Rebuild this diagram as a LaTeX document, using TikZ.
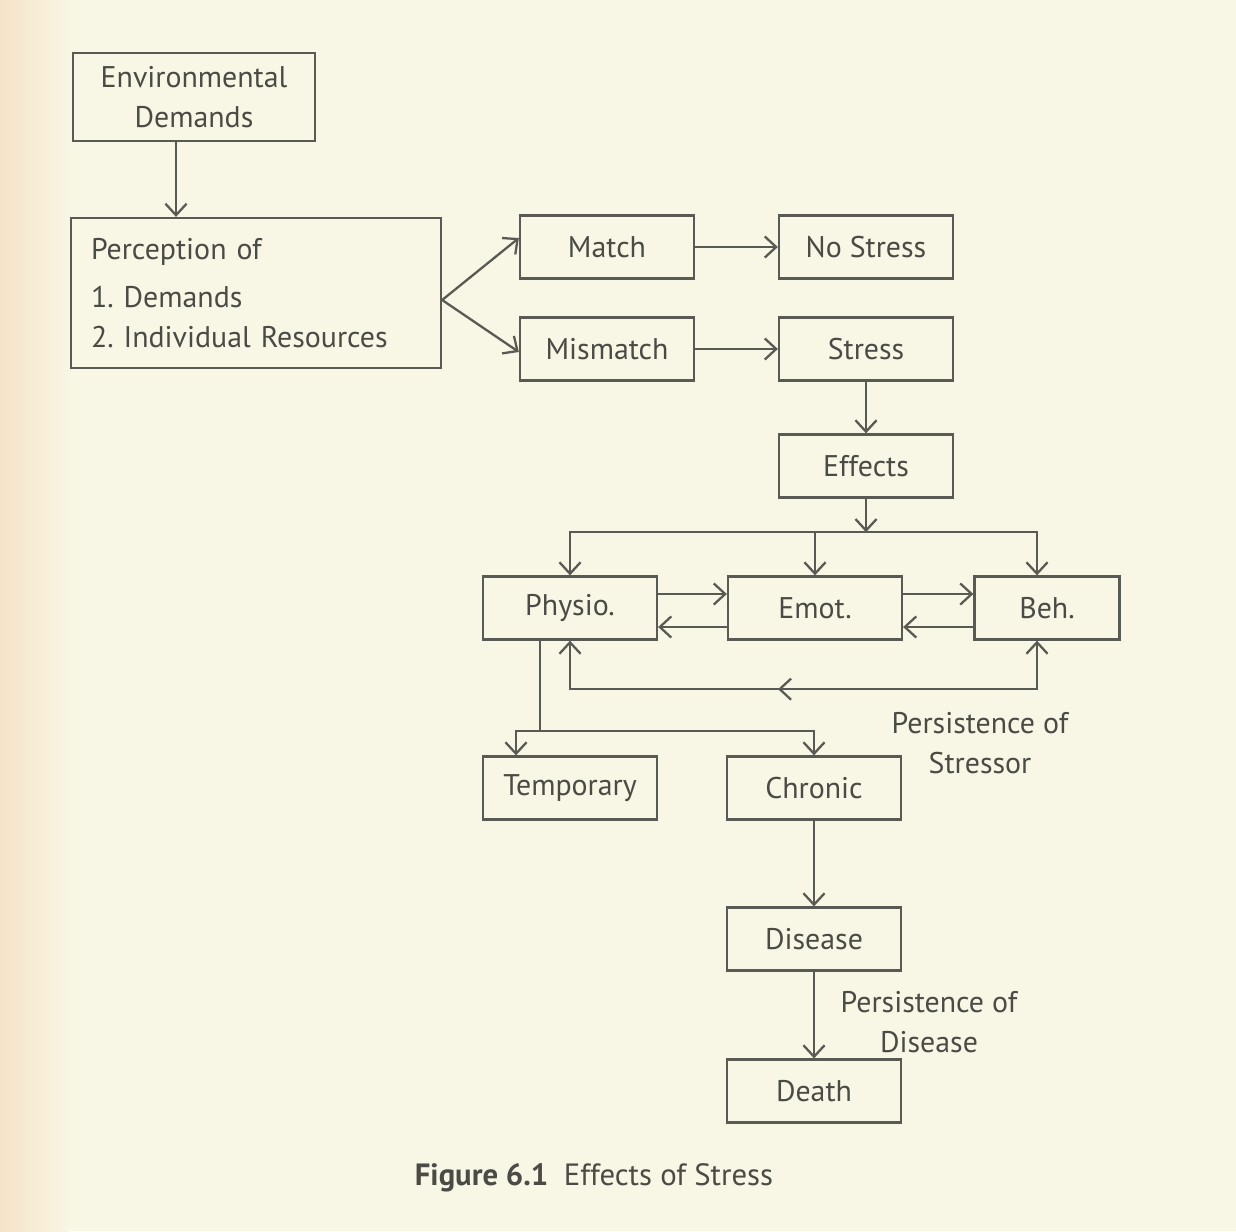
\documentclass[tikz,border=0pt]{standalone}
\usepackage{fontspec}
\setmainfont{PT Sans}
\usetikzlibrary{arrows.meta,calc,decorations.markings}
\definecolor{paper}{HTML}{F8F6E4}
\definecolor{peach}{HTML}{F5E3C8}
\definecolor{ink}{HTML}{4B4B46}
\definecolor{line}{HTML}{5A5A55}
\begin{document}
\begin{tikzpicture}[node distance=5.1cm, >={Straight Barb[length=6.5pt,width=12pt]},
    every node/.style={font=\fontsize{17}{23}\selectfont, text=ink}]
    \tikzstyle{box} = [rectangle, draw=line, line width=1.3pt, minimum width=3.48cm, minimum height=1.26cm, text centered, inner sep=2pt]
    \tikzstyle{link} = [draw=line, line width=1.3pt]
    \tikzstyle{midarrow} = [postaction={decorate}, decoration={markings, mark=at position 0.48 with {\arrow{<}}}]

    % page
    \fill[paper] (0,0) rectangle (24.72,-24.62);
    \shade[left color=peach, right color=paper] (0,0) rectangle (1.4,-24.62);
    \useasboundingbox (0,0) rectangle (24.72,-24.62);

    \node (envDem) [box, minimum width=4.84cm, minimum height=1.76cm, align=center] at (3.88,-1.94) {Environmental\\Demands};
    \node (percep) [box, text width=6.6cm, inner sep=0.4cm, minimum height=3cm, align=left] at (5.12,-5.86) {Perception of\\[0.15cm] 1.\ Demands\\ 2.\ Individual Resources};
    \node (match) [box] at (12.14,-4.94) {Match};
    \node (noStress) [box, right of=match, node distance=5.18cm] {No Stress};
    \node (mismatch) [box, below of=match, node distance=2.04cm] {Mismatch};
    \node (stress) [box, right of=mismatch, node distance=5.18cm] {Stress};
    \node (effects) [box, below of=stress, node distance=2.34cm] {Effects};

    \node (physio) [box] at (11.4,-12.16) {Physio.};
    \node (emot) [box, right of=physio, node distance=4.9cm] {Emot.};
    \node (beh) [box, right of=emot, node distance=4.64cm, minimum width=2.9cm] {Beh.};

    \node (temporary) [box, below of=physio, node distance=3.6cm] {Temporary};
    \node (chronic) [box, right of=temporary, node distance=4.88cm] {Chronic};
    \node (disease) [box, below of=chronic, node distance=3.02cm] {Disease};
    \node (death) [box, below of=disease, node distance=3.04cm] {Death};

    \node (stressorLbl) [align=center] at (19.6,-14.86) {Persistence of\\Stressor};
    \node (diseaseLbl) [align=center] at (18.58,-20.44) {Persistence of\\Disease};
    \node (caption) at (11.88,-23.56) {\fontsize{17.5}{21}\selectfont\textbf{Figure 6.1}\enspace Effects of Stress};

    \coordinate (split) at ([yshift=-0.67cm]effects.south);
    \coordinate (loop) at ([yshift=-0.97cm]physio.south);
    \coordinate (branch) at ([xshift=-0.6cm,yshift=-1.81cm]physio.south);

    \draw [->, link] ([xshift=-0.36cm]envDem.south) -- ([xshift=-0.36cm]envDem.south |- percep.north);
    \draw [->, link] ([yshift=-0.14cm]percep.east) -- ([yshift=0.18cm]match.west);
    \draw [->, link] ([yshift=-0.14cm]percep.east) -- ([yshift=-0.06cm]mismatch.west);
    \draw [->, link] (match) -- (noStress);
    \draw [->, link] (mismatch) -- (stress);
    \draw [->, link] (stress) -- (effects);

    % three kinds of effects
    \draw [->, link] (effects.south) -- (split);
    \draw [->, link] (split) -| (physio.north);
    \draw [->, link] (split) -| ([xshift=-0.2cm]beh.north);
    \draw [->, link] (split -| emot.north) -- (emot.north);
    \draw [->, link] ([yshift=0.28cm]physio.east) -- ([yshift=0.28cm]physio.east -| emot.west);
    \draw [->, link] ([yshift=-0.38cm]emot.west) -- ([yshift=-0.38cm]emot.west -| physio.east);
    \draw [->, link] ([yshift=0.28cm]emot.east) -- ([yshift=0.28cm]emot.east -| beh.west);
    \draw [->, link] ([yshift=-0.38cm]beh.west) -- ([yshift=-0.38cm]beh.west -| emot.east);
    \draw [<->, link, midarrow] (physio.south) -- (loop) -| ([xshift=-0.2cm]beh.south);

    % outcomes
    \draw [link] ([xshift=-0.6cm]physio.south) -- (branch);
    \draw [->, link] (branch) -| ([xshift=-1.08cm]temporary.north);
    \draw [->, link] (branch) -| (chronic.north);
    \draw [->, link] (chronic) -- (disease);
    \draw [->, link] (disease) -- (death);

\end{tikzpicture}
\end{document}
